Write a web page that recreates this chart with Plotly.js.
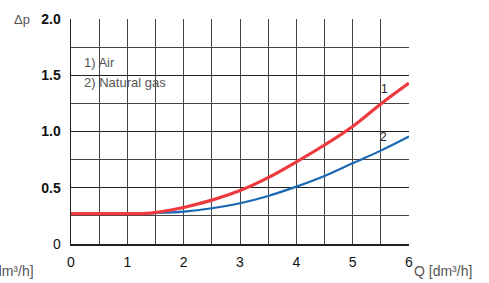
<!DOCTYPE html>
<html><head><meta charset="utf-8">
<script src="https://cdn.plot.ly/plotly-3.0.1.min.js"></script>
<style>html,body{margin:0;padding:0;background:#fff}#c{width:489px;height:283px}</style>
</head><body><div id="c"></div>
<script>
const qAir = [0, 0.5, 1.0, 1.35, 1.5, 1.75, 2.0, 2.5, 3.0, 3.5, 4.0, 4.5, 5.0, 5.5, 6.0];
const dpAir = [0.27, 0.27, 0.27, 0.272, 0.28, 0.30, 0.325, 0.39, 0.475, 0.59, 0.73, 0.88, 1.045, 1.245, 1.43];
const qGas = [0, 0.5, 1.0, 1.5, 2.0, 2.5, 3.0, 3.5, 4.0, 4.5, 5.0, 5.5, 6.0];
const dpGas = [0.27, 0.27, 0.27, 0.275, 0.288, 0.318, 0.362, 0.427, 0.51, 0.605, 0.718, 0.83, 0.955];
const xTicks = [0, 1, 2, 3, 4, 5, 6];
const xTickText = ["0", "1", "2", "3", "4", "5", "6"];
const yTicks = [0, 0.5, 1.0, 1.5, 2.0];
const yTickText = ["0", "<b>0.5</b>", "<b>1.0</b>", "<b>1.5</b>", "<b>2.0</b>"];

const font = "Liberation Sans, Arial, sans-serif";
const traces = [
  {x: qGas, y: dpGas, mode: "lines", line: {color: "#1a68b3", width: 2.2, shape: "spline"}, hoverinfo: "skip"},
  {x: qAir, y: dpAir, mode: "lines", line: {color: "#ee3a3f", width: 3.2, shape: "spline"}, hoverinfo: "skip"}
];
const layout = {
  width: 489, height: 283,
  margin: {l: 70.7, r: 80, t: 19.3, b: 39},
  paper_bgcolor: "#fff", plot_bgcolor: "#fff",
  showlegend: false,
  font: {family: font, size: 13, color: "#222"},
  xaxis: {
    range: [0, 6], tickvals: xTicks, ticktext: xTickText,
    showgrid: true, gridcolor: "#444", gridwidth: 1,
    minor: {dtick: 0.5, showgrid: true, gridcolor: "#444", gridwidth: 1},
    showline: true, linecolor: "#222", linewidth: 1.5, mirror: false,
    zeroline: false, ticks: "", ticklabelstandoff: 5,
    tickfont: {family: font, size: 14, color: "#111"}, fixedrange: true
  },
  yaxis: {
    range: [0, 2], tickvals: yTicks, ticktext: yTickText,
    showgrid: true, gridcolor: "#222", gridwidth: 1,
    minor: {dtick: 0.25, showgrid: true, gridcolor: "#444", gridwidth: 1},
    showline: true, linecolor: "#222", linewidth: 1.5,
    zeroline: false, ticks: "", ticklabelstandoff: 6,
    tickfont: {family: font, size: 14, color: "#111"}, fixedrange: true
  },
  annotations: [
    {xref: "paper", yref: "paper", x: -0.145, y: 1.0, xanchor: "center", yanchor: "middle", text: "Δp", showarrow: false, font: {size: 13, color: "#555"}},
    {xref: "paper", yref: "paper", x: 1.01, y: -0.12, xanchor: "left", yanchor: "middle", text: "Q [dm³/h]", showarrow: false, font: {size: 14, color: "#555"}},
    {xref: "paper", yref: "paper", x: -0.103, y: -0.12, xanchor: "right", yanchor: "middle", text: "[dm³/h]", showarrow: false, font: {size: 14, color: "#555"}},
    {xref: "x", yref: "y", x: 0.2, y: 1.615, xanchor: "left", yanchor: "middle", text: "1) Air", showarrow: false, font: {size: 13, color: "#555"}},
    {xref: "x", yref: "y", x: 0.2, y: 1.44, xanchor: "left", yanchor: "middle", text: "2) Natural gas", showarrow: false, font: {size: 13, color: "#555"}},
    {xref: "x", yref: "y", x: 5.57, y: 1.38, xanchor: "center", yanchor: "middle", text: "1", showarrow: false, font: {size: 12, color: "#222"}},
    {xref: "x", yref: "y", x: 5.55, y: 0.95, xanchor: "center", yanchor: "middle", text: "2", showarrow: false, font: {size: 12, color: "#222"}}
  ]
};
Plotly.newPlot("c", traces, layout, {displayModeBar: false, staticPlot: true});
</script></body></html>
